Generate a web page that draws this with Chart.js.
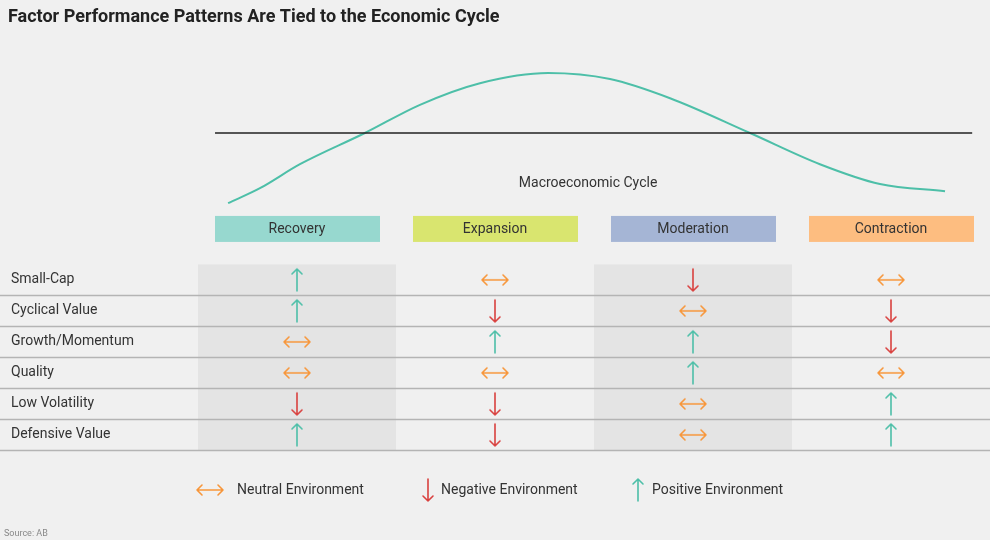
<!DOCTYPE html>
<html>
<head>
<meta charset="utf-8">
<script src="https://cdn.jsdelivr.net/npm/chart.js@4"></script>
<style>
  html, body { margin: 0; padding: 0; background: #f0f0f0; }
  #wrap { width: 990px; height: 540px; }
</style>
</head>
<body>
<div id="wrap"><canvas id="canvas" width="990" height="540"></canvas></div>
<script>
const phases = ["Recovery", "Expansion", "Moderation", "Contraction"];
const phaseColors = ["#97d8cf", "#d9e56f", "#a5b5d5", "#fdbd80"];
const factors = ["Small-Cap", "Cyclical Value", "Growth/Momentum", "Quality", "Low Volatility", "Defensive Value"];
// u = positive, d = negative, n = neutral; one entry per phase
const signals = [
  ["u", "n", "d", "n"],
  ["u", "d", "n", "d"],
  ["n", "u", "u", "d"],
  ["n", "n", "u", "n"],
  ["d", "d", "n", "u"],
  ["u", "d", "n", "u"],
];
// economic cycle curve, x in phase units, y relative to trend line
const cycleX = [-0.348, -0.187, 0.015, 0.343, 0.621, 0.924, 1.268, 1.581, 1.884, 2.288, 2.641, 2.944, 3.273];
const cycleY = [-1.17, -0.92, -0.52, 0, 0.47, 0.83, 1, 0.9, 0.58, 0, -0.52, -0.85, -0.97];
const trendX = [-0.414, 3.41];

const TEAL = "#4dbfa8", RED = "#d9413f", ORANGE = "#f7963a";
const FONT = "Roboto, 'Open Sans', sans-serif";

const makeArrow = (kind) => {
  const c = document.createElement("canvas");
  c.width = 32; c.height = 28;
  const g = c.getContext("2d");
  g.lineWidth = 1.6;
  g.lineCap = "round";
  g.lineJoin = "round";
  g.beginPath();
  if (kind === "n") {
    g.strokeStyle = ORANGE;
    g.moveTo(3, 14); g.lineTo(29, 14);
    g.moveTo(8, 9); g.lineTo(3, 14); g.lineTo(8, 19);
    g.moveTo(24, 9); g.lineTo(29, 14); g.lineTo(24, 19);
  } else if (kind === "u") {
    g.strokeStyle = TEAL;
    g.moveTo(16, 3); g.lineTo(16, 25);
    g.moveTo(11, 8); g.lineTo(16, 3); g.lineTo(21, 8);
  } else {
    g.strokeStyle = RED;
    g.moveTo(16, 3); g.lineTo(16, 25);
    g.moveTo(11, 20); g.lineTo(16, 25); g.lineTo(21, 20);
  }
  g.stroke();
  return c;
};
const arrows = { u: makeArrow("u"), d: makeArrow("d"), n: makeArrow("n") };

const points = (kind) => {
  const out = [];
  signals.forEach((row, r) => row.forEach((s, p) => { if (s === kind) out.push({ x: p, y: r }); }));
  return out;
};

const decor = {
  id: "decor",
  beforeDatasetsDraw(chart) {
    const ctx = chart.ctx;
    const x = chart.scales.x, y = chart.scales.y;
    ctx.save();
    // shaded columns
    ctx.fillStyle = "#e4e4e4";
    [0, 2].forEach((p) => {
      const l = x.getPixelForValue(p - 0.5), r = x.getPixelForValue(p + 0.5);
      const t = y.getPixelForValue(-0.5), b = y.getPixelForValue(factors.length - 0.5);
      ctx.fillRect(l, t, r - l, b - t);
    });
    // row separators
    ctx.strokeStyle = "#b4b4b4";
    ctx.lineWidth = 1.5;
    for (let i = 0; i < factors.length; i++) {
      const py = Math.round(y.getPixelForValue(i + 0.5)) + 0.5;
      ctx.beginPath(); ctx.moveTo(0, py); ctx.lineTo(990, py); ctx.stroke();
    }
    // row labels
    ctx.fillStyle = "#333";
    ctx.font = "14px " + FONT;
    ctx.textBaseline = "middle";
    factors.forEach((f, i) => ctx.fillText(f, 11, y.getPixelForValue(i)));
    // phase headers
    ctx.textAlign = "center";
    phases.forEach((ph, p) => {
      const cx = x.getPixelForValue(p), cy = y.getPixelForValue(-1.645);
      ctx.fillStyle = phaseColors[p];
      ctx.fillRect(cx - 82, cy - 13, 165, 26);
      ctx.fillStyle = "#333";
      ctx.fillText(ph, cx, cy + 1);
    });
    ctx.fillText("Macroeconomic Cycle", x.getPixelForValue(1.47), y.getPixelForValue(-3.1));
    // title and source
    ctx.textAlign = "left";
    ctx.fillStyle = "#222";
    ctx.font = "bold 18px " + FONT;
    ctx.fillText("Factor Performance Patterns Are Tied to the Economic Cycle", 8, 17);
    ctx.fillStyle = "#888";
    ctx.font = "9px " + FONT;
    ctx.fillText("Source: AB", 4, 534);
    // legend
    ctx.fillStyle = "#333";
    ctx.font = "14px " + FONT;
    const ly = 490;
    [["n", 194, "Neutral Environment", 237], ["d", 412, "Negative Environment", 441], ["u", 622, "Positive Environment", 652]]
      .forEach(([k, ax, label, tx]) => {
        ctx.drawImage(arrows[k], ax, ly - 14);
        ctx.fillText(label, tx, ly);
      });
    ctx.restore();
  },
};

const chart = new Chart(document.getElementById("canvas").getContext("2d"), {
  type: "scatter",
  data: {
    datasets: [
      { data: points("u"), pointStyle: arrows.u, pointRadius: 14 },
      { data: points("d"), pointStyle: arrows.d, pointRadius: 14 },
      { data: points("n"), pointStyle: arrows.n, pointRadius: 14 },
      {
        type: "line", yAxisID: "yc",
        data: trendX.map((v) => ({ x: v, y: 0 })),
        borderColor: "#222", borderWidth: 1.3, pointRadius: 0,
      },
      {
        type: "line", yAxisID: "yc",
        data: cycleX.map((v, i) => ({ x: v, y: cycleY[i] })),
        borderColor: TEAL, borderWidth: 2, pointRadius: 0,
        cubicInterpolationMode: "monotone",
      },
    ],
  },
  options: {
    responsive: false,
    animation: false,
    layout: { padding: 0, autoPadding: false },
    plugins: { legend: { display: false }, tooltip: { enabled: false } },
    scales: {
      x: { type: "linear", min: -1.5, max: 3.5, display: false },
      y: { type: "linear", min: -9.03, max: 8.39, reverse: true, display: false },
      yc: { type: "linear", min: -6.783, max: 2.217, display: false },
    },
  },
  plugins: [decor],
});
</script>
</body>
</html>
